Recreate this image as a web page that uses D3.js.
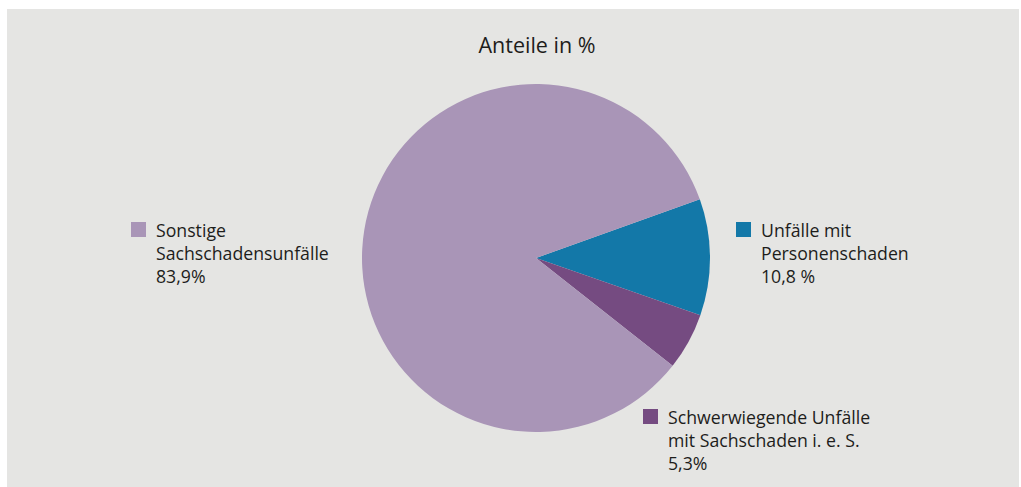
<!DOCTYPE html>
<html>
<head>
<meta charset="utf-8">
<script src="https://cdn.jsdelivr.net/npm/d3@7"></script>
<style>
  body { margin: 0; background: #fff; }
  text { font-family: "Open Sans", "Noto Sans", sans-serif; fill: #1d1d1b; }
</style>
</head>
<body>
<script>
// data
const categories = ["Unfälle mit Personenschaden", "Schwerwiegende Unfälle mit Sachschaden i. e. S.", "Sonstige Sachschadensunfälle"];
const values = [10.8, 5.3, 83.9];
const valueLabels = ["10,8 %", "5,3%", "83,9%"];
const labelLines = [
  ["Unfälle mit", "Personenschaden"],
  ["Schwerwiegende Unfälle", "mit Sachschaden i. e. S."],
  ["Sonstige", "Sachschadensunfälle"]
];
const colors = ["#1378a8", "#754b81", "#a995b7"];

const width = 1021,
  height = 487;

const svg = d3
  .select("body")
  .append("svg")
  .attr("width", width)
  .attr("height", height);

// grey panel
svg
  .append("rect")
  .attr("x", 7)
  .attr("y", 9)
  .attr("width", 1012)
  .attr("height", 478)
  .attr("fill", "#e5e5e3");

svg
  .append("text")
  .attr("x", 537)
  .attr("y", 53)
  .attr("text-anchor", "middle")
  .attr("font-size", 21.5)
  .text("Anteile in %");

// pie
const startAngle = 70.3 * Math.PI / 180;
const pie = d3
  .pie()
  .sort(null)
  .value((d) => d)
  .startAngle(startAngle)
  .endAngle(startAngle + 2 * Math.PI);

const arc = d3.arc().innerRadius(0).outerRadius(174);

const pieG = svg.append("g").attr("transform", "translate(536,258)");

pieG
  .selectAll("path")
  .data(pie(values))
  .enter()
  .append("path")
  .attr("d", arc)
  .attr("fill", (d, i) => colors[i]);

// legend labels
const legendPos = [
  { x: 736, y: 222 },
  { x: 643, y: 409 },
  { x: 131, y: 222 }
];

const legend = svg
  .selectAll("g.legend")
  .data(categories)
  .enter()
  .append("g")
  .attr("class", "legend")
  .attr("transform", (d, i) => `translate(${legendPos[i].x},${legendPos[i].y})`);

legend
  .append("rect")
  .attr("width", 15)
  .attr("height", 15)
  .attr("fill", (d, i) => colors[i]);

legend
  .append("text")
  .attr("font-size", 17.7)
  .selectAll("tspan")
  .data((d, i) => labelLines[i].concat([valueLabels[i]]))
  .enter()
  .append("tspan")
  .attr("x", 25)
  .attr("y", (d, j) => 15 + j * 23)
  .text((d) => d);
</script>
</body>
</html>
